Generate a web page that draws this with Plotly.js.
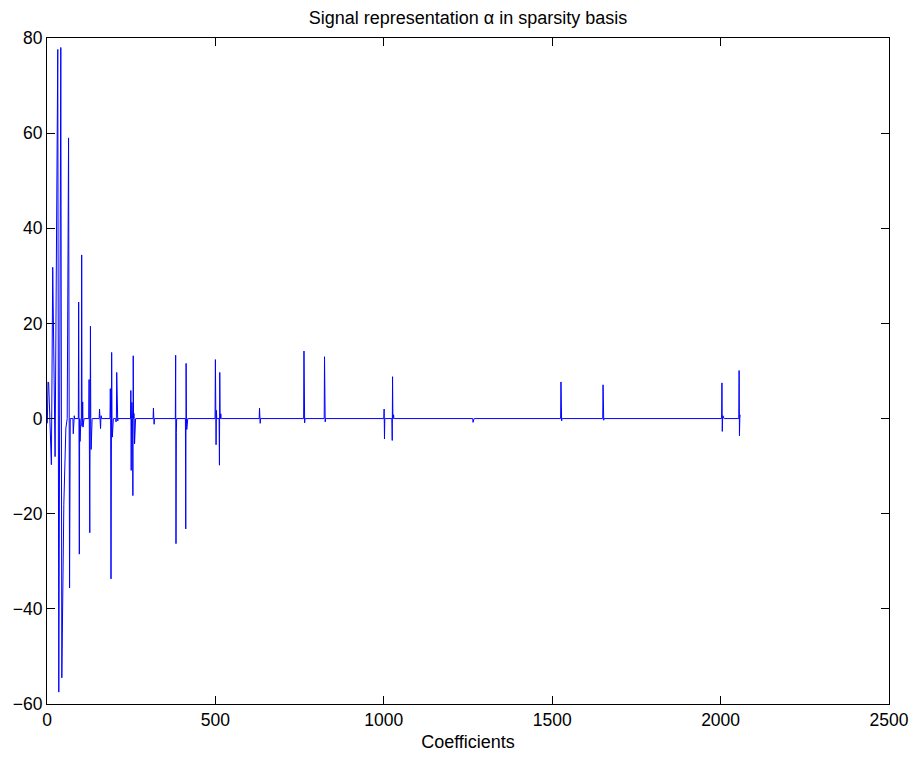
<!DOCTYPE html>
<html>
<head>
<meta charset="utf-8">
<script src="https://cdn.plot.ly/plotly-3.0.1.min.js"></script>
<style>html,body{margin:0;padding:0;background:#fff;}#chart{width:918px;height:759px;}</style>
</head>
<body>
<div id="chart"></div>
<script>
// Dense coarse-scale coefficients at the start of the vector (index, value)
const coarseIdx = [1, 3, 5, 13, 17, 24, 32, 35, 41, 44, 50, 56, 60, 64, 67, 69];
const coarseVal = [-1, 7.7, 7.5, -9.7, 31.8, -8.0, 77.6, -57.5, 78, -54.5, -18, -2, 0, 59, -35.6, 0];

// Sparse detail coefficients (index, value); all other coefficients are zero
const spikeIdx = [78, 81, 94, 96, 98, 103, 104, 106, 107, 125, 127, 129, 131, 156, 159, 161,
  188, 190, 192, 194, 205, 207, 210, 249, 250, 252, 255, 256, 258, 260, 316, 318,
  382, 383, 384, 412, 413, 415, 500, 502, 503, 512, 513, 516, 631, 633, 763, 765,
  824, 826, 1001, 1002, 1025, 1026, 1029, 1265, 1526, 1528, 1651, 1653,
  2004, 2005, 2007, 2055, 2056, 2058];
const spikeVal = [-3.2, 0.6, 24.5, -28.5, -4.8, 34.4, -1.6, 3.5, -1.8, 8.2, -24, 19.4, -6.5, 2.0, -2.1, 0.6,
  6.3, -33.7, 13.9, -3.9, -0.7, 9.7, -0.5, 5.9, -10.9, 3.4, -16.2, 13.2, 1.1, -5.3, 2.2, -1.2,
  13.3, -26.3, -2.9, -23.2, 11.6, -2.3, 12.4, -5.5, 1.7, -9.8, 9.7, 1.0, 2.2, -1.0, 14.2, -0.9,
  13.0, -0.7, 2.0, -4.3, -4.6, 8.8, 0.8, -0.8, 7.7, -0.5, 7.1, -0.35,
  7.5, -2.7, 0.6, 10.1, -3.6, 0.8];
const nCoeff = 2058;

const xTicks = [0, 500, 1000, 1500, 2000, 2500];
const yTicks = [-60, -40, -20, 0, 20, 40, 60, 80];

// Build the full coefficient vector
const spikeMap = {};
spikeIdx.forEach((k, i) => { spikeMap[k] = spikeVal[i]; });
const xs = coarseIdx.slice();
const ys = coarseVal.slice();
for (let k = coarseIdx[coarseIdx.length - 1] + 1; k <= nCoeff; k++) {
  xs.push(k);
  ys.push(spikeMap[k] !== undefined ? spikeMap[k] : 0);
}

const font = 'Liberation Sans, Arial, Helvetica, sans-serif';
const trace = {
  x: xs, y: ys, type: 'scatter', mode: 'lines',
  line: {color: '#0000ff', width: 1},
  hoverinfo: 'skip'
};
const axisCommon = {
  showgrid: false, zeroline: false, showline: true, mirror: 'ticks',
  linecolor: '#000', linewidth: 1, ticks: 'inside', ticklen: 8, tickcolor: '#000',
  tickfont: {family: font, size: 17.5, color: '#000'}
};
const layout = {
  width: 918, height: 759,
  paper_bgcolor: '#fff', plot_bgcolor: '#fff',
  margin: {l: 47, r: 29, t: 38, b: 55},
  showlegend: false,
  title: {text: 'Signal representation α in sparsity basis', font: {family: font, size: 18, color: '#000'},
    x: 0.5, xref: 'paper', y: 1 - 18 / 759, yref: 'container', yanchor: 'middle'},
  xaxis: Object.assign({}, axisCommon, {range: [0, 2500], tickvals: xTicks, ticktext: xTicks.map(String),
    title: {text: 'Coefficients', font: {family: font, size: 18, color: '#000'}, standoff: 6}}),
  yaxis: Object.assign({}, axisCommon, {range: [-60, 80], tickvals: yTicks, ticktext: yTicks.map(v => v < 0 ? '\u2212' + Math.abs(v) : String(v))})
};
Plotly.newPlot('chart', [trace], layout, {staticPlot: true, displayModeBar: false});
</script>
</body>
</html>
